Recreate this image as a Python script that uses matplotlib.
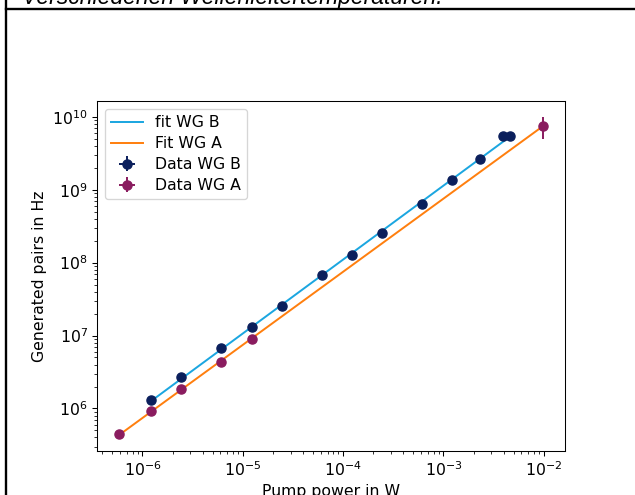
'''
pair generation rate vs pump power, two waveguides
'''
import matplotlib
matplotlib.use('Agg')
import matplotlib.pyplot as plt
import numpy as np

# data
power_b = [1.23e-6, 2.43e-6, 6.05e-6, 1.23e-5, 2.49e-5, 6.2e-5, 1.22e-4,
           2.45e-4, 6.15e-4, 1.22e-3, 2.32e-3, 3.93e-3, 4.6e-3]
pairs_b = [1.32e6, 2.66e6, 6.7e6, 1.30e7, 2.52e7, 6.7e7, 1.29e8,
           2.58e8, 6.3e8, 1.37e9, 2.64e9, 5.4e9, 5.4e9]
power_a = [5.87e-7, 1.23e-6, 2.43e-6, 6.05e-6, 1.23e-5, 9.8e-3]
pairs_a = [4.4e5, 9.1e5, 1.82e6, 4.4e6, 9.0e6, 7.5e9]
perr_a = [0.02, 0.02, 0.02, 0.02, 0.02, 0.33]  # relative y errors

labels = ['fit WG B', 'Fit WG A', 'Data WG B', 'Data WG A']
caption = 'Verschiedenen Wellenleitertemperaturen.'

col_b, col_a = '#0b1f5c', '#8a1c5f'
col_fit_b, col_fit_a = '#1ba6e0', '#ff7f0e'

plt.rcParams['font.size'] = 12

DPI = 94.3
W, H = 635, 495
fig = plt.figure(figsize=(W / DPI, H / DPI), dpi=DPI)

def px(l, t, r, b):
    return [l / W, 1 - b / H, (r - l) / W, (b - t) / H]

# page frame of the document screenshot
fig.add_artist(matplotlib.lines.Line2D([6 / W, 6 / W], [0, 1], color='black', lw=1.8))
fig.add_artist(matplotlib.lines.Line2D([6 / W, 1], [1 - 9 / H, 1 - 9 / H], color='black', lw=1.8))
fig.text(22 / W, 1 - 4 / H, caption, fontsize=17.5, style='italic',
         family='Liberation Sans', va='baseline', ha='left')

ax = fig.add_axes(px(97, 101, 565, 451))

def fitline(x, y):
    x, y = np.asarray(x), np.asarray(y)
    k, d = np.polyfit(np.log10(x), np.log10(y), 1)
    xs = np.array([x.min(), x.max()])
    return xs, 10 ** (k * np.log10(xs) + d)

ax.plot(*fitline(power_b, pairs_b), color=col_fit_b, label=labels[0])
ax.plot(*fitline(power_a, pairs_a), color=col_fit_a, label=labels[1])

pb, yb = np.array(power_b), np.array(pairs_b)
pa, ya = np.array(power_a), np.array(pairs_a)
ax.errorbar(pb, yb, xerr=0.02 * pb, yerr=0.02 * yb, fmt='o', ms=7, color=col_b, label=labels[2])
ax.errorbar(pa, ya, xerr=0.02 * pa, yerr=np.array(perr_a) * ya, fmt='o', ms=7, color=col_a, label=labels[3])

ax.set_xscale('log')
ax.set_yscale('log')
ax.set_xlabel('Pump power in W')
ax.set_ylabel('Generated pairs in Hz')
ax.legend(loc='upper left', labelspacing=0.38)

fig.savefig('out.png', dpi=DPI)
